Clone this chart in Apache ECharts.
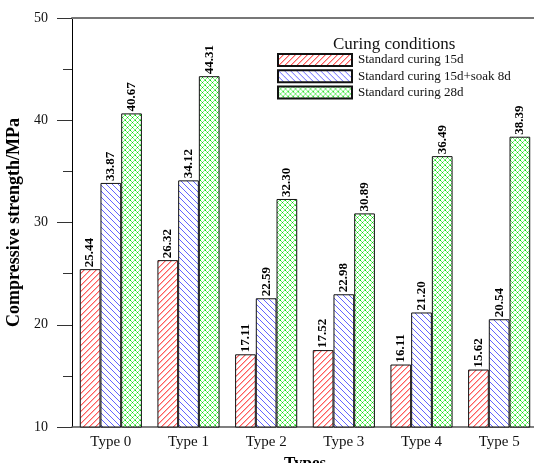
<!DOCTYPE html>
<html>
<head>
<meta charset="utf-8">
<script src="https://cdn.jsdelivr.net/npm/echarts@6/dist/echarts.min.js"></script>
<style>
  html, body { margin: 0; padding: 0; background: #fff; }
  #chart { width: 534px; height: 463px; }
</style>
</head>
<body>
<div id="chart"></div>
<script>
// Compressive strength by mix type under three curing regimes
const categories = ['Type 0', 'Type 1', 'Type 2', 'Type 3', 'Type 4', 'Type 5'];
const seriesNames = ['Standard curing 15d', 'Standard curing 15d+soak 8d', 'Standard curing 28d'];
const cured15d = [25.44, 26.32, 17.11, 17.52, 16.11, 15.62];
const cured15dSoak8d = [33.87, 34.12, 22.59, 22.98, 21.20, 20.54];
const cured28d = [40.67, 44.31, 32.30, 30.89, 36.49, 38.39];
const yTicks = { min: 10, max: 50, interval: 10 };

const SERIF = "'Liberation Serif', 'Times New Roman', serif";

// Pixel hatch tile: '/' lines, '\' lines or both, on white.
// `soft` adds a lighter companion pixel to thicken a line.
function tile(kind, color, size, opts) {
  opts = opts || {};
  const c = document.createElement('canvas');
  c.width = size; c.height = size;
  const g = c.getContext('2d');
  g.fillStyle = '#ffffff';
  g.fillRect(0, 0, size, size);
  for (let x = 0; x < size; x++) {
    if (kind === 'fwd' || kind === 'cross') {
      if (opts.soft) {
        g.fillStyle = opts.soft;
        g.fillRect((x + 1) % size, size - 1 - x, 1, 1);
      }
      g.fillStyle = color;
      g.fillRect(x, size - 1 - x, 1, 1);
    }
    if (kind === 'back' || kind === 'cross') {
      g.fillStyle = color;
      g.fillRect(x, x, 1, 1);
    }
  }
  if (opts.dot) {
    g.fillStyle = opts.dot;
    g.fillRect(0, 0, 1, 1);
    if (size % 2 === 1) g.fillRect((size - 1) / 2, (size - 1) / 2, 1, 1);
  }
  return { image: c, repeat: 'repeat' };
}

const fills = [
  tile('fwd', '#ff5c5c', 6, { soft: '#ffb4b4' }),
  tile('back', '#6464ff', 6),
  tile('cross', '#7af07a', 5, { dot: '#00dd00' })
];

const seriesData = [cured15d, cured15dSoak8d, cured28d];

const chart = echarts.init(document.getElementById('chart'), null, { renderer: 'canvas' });
chart.setOption({
  backgroundColor: '#fff',
  animation: false,
  title: {
    text: 'Curing conditions', left: 328, top: 31,
    textStyle: { fontFamily: SERIF, fontSize: 17, fontWeight: 'normal', color: '#111' }
  },
  legend: {
    orient: 'vertical', left: 272, top: 48, itemWidth: 74, itemHeight: 12, itemGap: 2.2, icon: 'rect',
    data: seriesNames,
    textStyle: { fontFamily: SERIF, fontSize: 13, lineHeight: 12, color: '#111', padding: [0, 0, 0, 1] }
  },
  grid: { left: 72, top: 18, width: 466, height: 409, containLabel: false, outerBoundsMode: 'none' },
  xAxis: [
    {
      type: 'category', data: categories, position: 'bottom',
      name: 'Types', nameLocation: 'middle', nameGap: 27,
      nameTextStyle: { fontFamily: SERIF, fontSize: 17, fontWeight: 'bold', color: '#000' },
      axisLine: { lineStyle: { color: '#555', width: 1.5 } },
      axisTick: { show: false },
      axisLabel: { fontFamily: SERIF, fontSize: 15, color: '#111', margin: 8 }
    },
    {
      type: 'category', data: categories, position: 'top',
      axisLine: { lineStyle: { color: '#777', width: 2 } },
      axisTick: { show: false }, axisLabel: { show: false }
    }
  ],
  yAxis: {
    type: 'value', min: yTicks.min, max: yTicks.max, interval: yTicks.interval,
    name: 'Compressive strength/MPa', nameLocation: 'middle', nameGap: 45,
    nameTextStyle: { fontFamily: SERIF, fontSize: 18, fontWeight: 'bold', color: '#000' },
    axisLine: { show: true, lineStyle: { color: '#000', width: 1 } },
    axisTick: { show: true, inside: false, length: 15, lineStyle: { color: '#333' } },
    minorTick: { show: true, splitNumber: 2, length: 9, lineStyle: { color: '#333' } },
    splitLine: { show: false },
    axisLabel: { fontFamily: SERIF, fontSize: 14, color: '#111', margin: 24 }
  },
  series: seriesNames.map((name, i) => ({
    name, type: 'bar', data: seriesData[i],
    barGap: '0%', barCategoryGap: '20%',
    itemStyle: { color: fills[i], borderColor: '#111', borderWidth: 1 },
    label: {
      show: true, position: 'top', rotate: 90, align: 'left', verticalAlign: 'middle', distance: 2,
      fontFamily: SERIF, fontSize: 13, fontWeight: 'bold', color: '#000',
      formatter: p => p.value.toFixed(2)
    }
  }))
});
</script>
</body>
</html>
